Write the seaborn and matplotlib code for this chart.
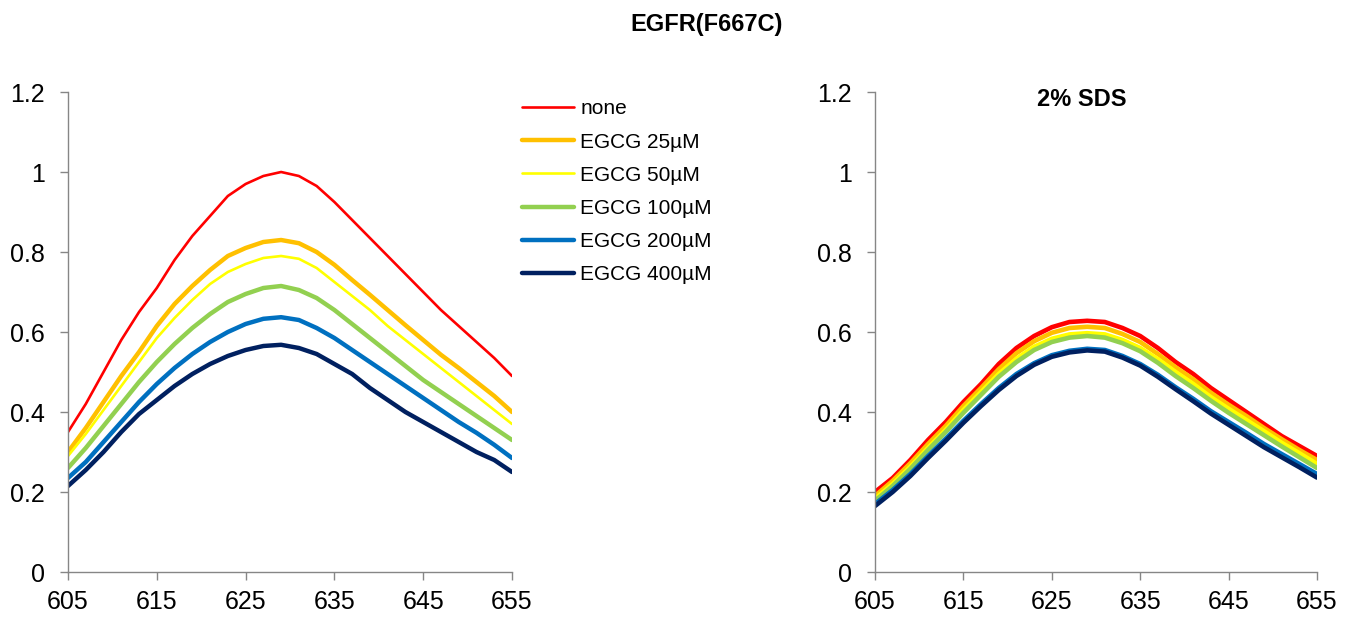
import numpy as np
import pandas as pd
import matplotlib
matplotlib.use("Agg")
import matplotlib.pyplot as plt
import seaborn as sns

sns.set_theme(style="white")
plt.rcParams['font.family'] = ['Liberation Sans', 'DejaVu Sans']
plt.rcParams['text.color'] = 'black'
plt.rcParams['axes.labelcolor'] = 'black'

wavelength = list(range(605, 656, 2))
series = ["none", "EGCG 25\u00b5M", "EGCG 50\u00b5M", "EGCG 100\u00b5M", "EGCG 200\u00b5M", "EGCG 400\u00b5M"]
colors = ["#FF0000", "#FFC000", "#FFFF00", "#92D050", "#0070C0", "#002060"]

# Left panel (no SDS)
none_l = [0.35, 0.42, 0.50, 0.58, 0.65, 0.71, 0.78, 0.84, 0.89, 0.94, 0.97, 0.99, 1.00,
          0.99, 0.965, 0.925, 0.88, 0.835, 0.79, 0.745, 0.70, 0.655, 0.615, 0.575, 0.535, 0.49]
e25_l = [0.30, 0.36, 0.425, 0.49, 0.55, 0.615, 0.67, 0.715, 0.755, 0.79, 0.81, 0.825, 0.83,
         0.822, 0.80, 0.768, 0.73, 0.693, 0.655, 0.617, 0.58, 0.543, 0.51, 0.475, 0.44, 0.40]
e50_l = [0.29, 0.345, 0.405, 0.465, 0.525, 0.585, 0.635, 0.68, 0.72, 0.75, 0.77, 0.785, 0.79,
         0.783, 0.76, 0.725, 0.69, 0.655, 0.615, 0.58, 0.545, 0.51, 0.475, 0.44, 0.405, 0.37]
e100_l = [0.26, 0.31, 0.365, 0.42, 0.475, 0.525, 0.57, 0.61, 0.645, 0.675, 0.695, 0.71, 0.715,
          0.705, 0.685, 0.655, 0.62, 0.585, 0.55, 0.515, 0.48, 0.45, 0.42, 0.39, 0.36, 0.33]
e200_l = [0.235, 0.275, 0.325, 0.375, 0.425, 0.47, 0.51, 0.545, 0.575, 0.60, 0.62, 0.633, 0.637,
          0.63, 0.61, 0.585, 0.555, 0.525, 0.495, 0.465, 0.435, 0.405, 0.375, 0.348, 0.318, 0.285]
e400_l = [0.215, 0.255, 0.30, 0.35, 0.395, 0.43, 0.465, 0.495, 0.52, 0.54, 0.555, 0.565, 0.568,
          0.56, 0.545, 0.52, 0.495, 0.46, 0.43, 0.40, 0.375, 0.35, 0.325, 0.30, 0.28, 0.25]

# Right panel (2% SDS)
none_r = [0.20, 0.235, 0.28, 0.33, 0.375, 0.425, 0.47, 0.52, 0.56, 0.59, 0.612, 0.625, 0.628,
          0.625, 0.61, 0.59, 0.56, 0.525, 0.495, 0.46, 0.43, 0.40, 0.37, 0.34, 0.315, 0.29]
e25_r = [0.19, 0.228, 0.272, 0.32, 0.365, 0.415, 0.46, 0.507, 0.547, 0.577, 0.598, 0.61, 0.613,
         0.61, 0.595, 0.575, 0.545, 0.512, 0.482, 0.448, 0.418, 0.39, 0.36, 0.332, 0.305, 0.28]
e50_r = [0.183, 0.22, 0.263, 0.31, 0.355, 0.405, 0.45, 0.495, 0.533, 0.563, 0.583, 0.594, 0.597,
         0.594, 0.58, 0.56, 0.532, 0.50, 0.47, 0.437, 0.408, 0.38, 0.352, 0.323, 0.297, 0.27]
e100_r = [0.178, 0.215, 0.258, 0.305, 0.35, 0.398, 0.443, 0.488, 0.525, 0.555, 0.575, 0.586, 0.59,
          0.586, 0.572, 0.552, 0.523, 0.49, 0.46, 0.428, 0.398, 0.37, 0.342, 0.314, 0.287, 0.26]
e200_r = [0.17, 0.205, 0.245, 0.29, 0.333, 0.378, 0.42, 0.46, 0.495, 0.522, 0.542, 0.553, 0.558,
          0.555, 0.54, 0.52, 0.493, 0.462, 0.433, 0.402, 0.375, 0.348, 0.32, 0.295, 0.27, 0.245]
e400_r = [0.165, 0.20, 0.24, 0.285, 0.328, 0.373, 0.415, 0.455, 0.49, 0.518, 0.538, 0.549, 0.554,
          0.551, 0.536, 0.516, 0.488, 0.457, 0.427, 0.396, 0.368, 0.34, 0.312, 0.287, 0.262, 0.236]

left_vals = [none_l, e25_l, e50_l, e100_l, e200_l, e400_l]
right_vals = [none_r, e25_r, e50_r, e100_r, e200_r, e400_r]
left_lw = [1.9, 3.2, 1.9, 3.2, 3.2, 3.2]
right_lw = [3.3, 3.3, 3.3, 3.3, 3.3, 3.3]

x_ticks = [605, 615, 625, 635, 645, 655]
y_ticks = [0, 0.2, 0.4, 0.6, 0.8, 1.0, 1.2]
y_labels = ["0", "0.2", "0.4", "0.6", "0.8", "1", "1.2"]

W, H = 1358, 617
fig = plt.figure(figsize=(W / 100, H / 100), dpi=100)
axL = fig.add_axes([68 / W, 1 - 572 / H, 444 / W, 480 / H])
axR = fig.add_axes([875 / W, 1 - 572 / H, 442 / W, 480 / H])

def draw(ax, vals, lws):
    for name, v, c, lw in zip(series, vals, colors, lws):
        df = pd.DataFrame({"wl": wavelength, "val": v})
        sns.lineplot(data=df, x="wl", y="val", ax=ax, color=c, linewidth=lw,
                     label=name, legend=False)
    ax.set_xlim(605, 655)
    ax.set_ylim(0, 1.2)
    ax.set_xticks(x_ticks)
    ax.set_xticklabels([str(t) for t in x_ticks])
    ax.set_yticks(y_ticks)
    ax.set_yticklabels(y_labels)
    ax.set_xlabel("")
    ax.set_ylabel("")
    for s in ["top", "right"]:
        ax.spines[s].set_visible(False)
    for s in ["left", "bottom"]:
        ax.spines[s].set_color("#868686")
        ax.spines[s].set_linewidth(1.0)
    ax.tick_params(axis="both", which="major", direction="out", length=5.8, width=1.0,
                   color="#868686", labelsize=18, labelcolor="black",
                   left=True, bottom=True)
    ax.tick_params(axis="x", pad=7)
    ax.tick_params(axis="y", pad=11)
    ax.set_facecolor("white")

draw(axL, left_vals, left_lw)
draw(axR, right_vals, right_lw)

handles, labels = axL.get_legend_handles_labels()
fig.legend(handles, labels, loc="upper left", bbox_to_anchor=(514 / W, 1 - 91 / H),
           frameon=False, fontsize=15, handlelength=2.5, handletextpad=0.29,
           labelspacing=0.68, borderaxespad=0)

fig.text(707 / W, 1 - 24 / H, "EGFR(F667C)", ha="center", va="center",
         fontsize=17, fontweight="bold")
fig.text(1082 / W, 1 - 99 / H, "2% SDS", ha="center", va="center",
         fontsize=17, fontweight="bold")

fig.savefig("out.png", dpi=100, facecolor="white")
